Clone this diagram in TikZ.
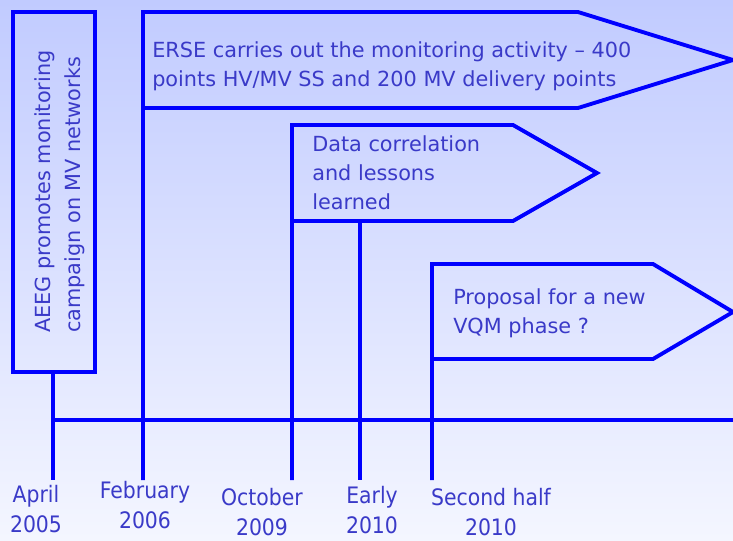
\documentclass[tikz,border=0pt]{standalone}
\usepackage{fontspec}
\setmainfont{DejaVu Sans Condensed}
\newfontfamily\notefont{DejaVu Sans}
\definecolor{bgtop}{RGB}{193,203,255}
\definecolor{bgbot}{RGB}{244,246,255}
\definecolor{lineblue}{RGB}{0,0,255}
\definecolor{txtblue}{RGB}{58,58,200}
\tikzset{
  phase/.style={draw=lineblue,line width=2.9pt},
  note/.style={text=txtblue,align=left,inner sep=0pt,anchor=base west,
    font=\notefont\fontsize{15.6}{21.5}\selectfont},
  date/.style={text=txtblue,align=center,inner sep=0pt,anchor=base,
    font=\fontsize{17}{22.5}\selectfont}
}
\begin{document}
\begin{tikzpicture}[x=0.75pt,y=-0.75pt]
  \shade[top color=bgtop,bottom color=bgbot] (0,0) rectangle (733,540);
  \useasboundingbox (0,0) rectangle (733,540);
  % tick ends on the time axis
  \coordinate (apr) at (53,480);
  \coordinate (feb) at (143,480);
  \coordinate (oct) at (292,480);
  \coordinate (early) at (360,480);
  \coordinate (second) at (432,480);
  \coordinate (axis) at (53,420);
  \coordinate (axisend) at (733,420);
  % phases
  \draw[phase] (13,12) rectangle (95,372);
  \draw[phase] (53,372) -- (apr);
  \draw[phase] (143,108) -- (578,108) -- (733,60) -- (578,12) -- (143,12) -- (feb);
  \draw[phase] (292,221) -- (513,221) -- (597,173) -- (513,125) -- (292,125) -- (oct);
  \draw[phase] (360,221) -- (early);
  \draw[phase] (432,359) -- (653,359) -- (733,312) -- (653,264) -- (432,264) -- (second);
  \draw[phase] (axis) -- (axisend);
  % texts (anchored on the last line)
  \node[note,rotate=90,font=\notefont\fontsize{15.6}{22.5}\selectfont] (aeeg) at (80,333)
    {AEEG promotes monitoring\\campaign on MV networks};
  \node[note] (erse) at (152,86)
    {ERSE carries out the monitoring activity – 400\\points HV/MV SS and 200 MV delivery points};
  \node[note] (data) at (312,209) {Data correlation\\and lessons\\learned};
  \node[note] (vqm) at (453,333) {Proposal for a new\\VQM phase ?};
  \node[date] (d1) at (36,532) {April\\2005};
  \node[date] (d2) at (145,528) {February\\2006};
  \node[date] (d3) at (262,535) {October\\2009};
  \node[date] (d4) at (372,533) {Early\\2010};
  \node[date] (d5) at (491,535) {Second half\\2010};
\end{tikzpicture}
\end{document}
